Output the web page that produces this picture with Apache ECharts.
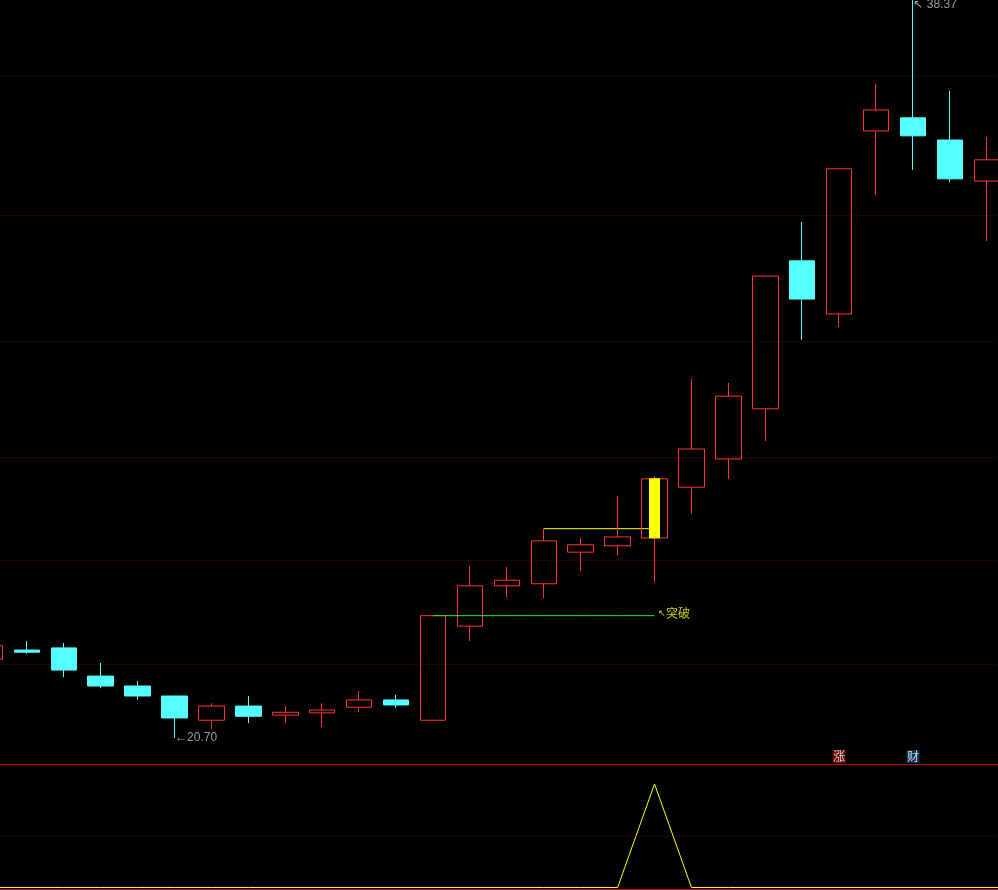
<!DOCTYPE html>
<html>
<head>
<meta charset="utf-8">
<style>html,body{margin:0;padding:0;background:#000;overflow:hidden}#c{width:998px;height:890px}</style>
<script src="https://cdn.jsdelivr.net/npm/echarts@6/dist/echarts.min.js"></script>
</head>
<body>
<div id="c"></div>
<script>
const categories = ['1','2','3','4','5','6','7','8','9','10','11','12','13','14','15','16','17','18','19','20','21','22','23','24','25','26','27','28','29'];
const opens  = [22.11,22.28,22.32,21.80,21.62,21.44,21.01,21.26,21.10,21.14,21.24,21.37,21.01,22.73,23.51,23.55,24.18,24.31,24.47,25.53,26.14,27.26,30.85,29.51,34.39,34.77,34.13,32.98];
const closes = [22.36,22.24,21.91,21.62,21.44,21.05,21.26,21.08,21.15,21.19,21.37,21.28,22.93,23.51,23.62,24.41,24.33,24.49,25.71,26.36,27.55,30.46,29.88,33.32,35.00,34.25,33.04,33.57];
const lows   = [22.11,22.21,21.78,21.58,21.37,20.70,20.86,20.96,20.96,20.89,21.15,21.23,21.01,22.45,23.29,23.27,23.80,24.12,23.58,24.97,25.71,26.54,28.88,29.19,32.60,33.29,32.95,31.37];
const highs  = [22.36,22.45,22.41,22.04,21.71,21.44,21.31,21.44,21.26,21.31,21.53,21.46,22.93,23.90,23.88,24.66,24.47,25.34,25.77,27.95,27.86,30.46,31.87,33.32,35.77,38.37,35.56,34.22];
const gridLevels = [36.00,32.05,28.85,26.18,24.02,22.02];
const indicator = [0,0,0,0,0,0,0,0,0,0,0,0,0,0,0,0,0,0,100,0,0,0,0,0,0,0,0,0,0];
const indicatorLevels = [50];
const breakoutIndex = 12, signalIndex = 18, resistanceIndex = 15;
const badgeItems = [{index:23,text:'涨',bg:'#840A0A'},{index:25,text:'财',bg:'#0F3D6E'}];
const badgePrice = 20.38;
const RED = '#FF3333', CYAN = '#54FFFF', YELLOW = '#FFFF00', GREY = '#C0C0C0';

const candleData = opens.map((o,i)=>[o,closes[i],lows[i],highs[i]]);
const signalData = categories.map((_,i)=> i===signalIndex ? [opens[i],closes[i],opens[i],closes[i]] : ['-','-','-','-']);
const span = (from,to,v)=>categories.map((_,i)=> i>=from&&i<=to ? v : '-');
const LOG_MIN = 20.255, LOG_MAX = 38.37;

const chart = echarts.init(document.getElementById('c'),null,{renderer:'canvas',width:998,height:890});
chart.setOption({
  animation:false,
  backgroundColor:'#000',
  grid:[
    {left:-28.5,width:1070.7,top:0,height:764,outerBoundsMode:'none',containLabel:false},
    {left:-28.5,width:1070.7,top:765,height:124,outerBoundsMode:'none',containLabel:false}
  ],
  xAxis:[
    {type:'category',gridIndex:0,data:categories,boundaryGap:true,
     axisLine:{show:true,onZero:false,lineStyle:{color:'#CC0000',width:1}},axisTick:{show:false},axisLabel:{show:false},splitLine:{show:false}},
    {type:'category',gridIndex:1,data:categories,boundaryGap:true,
     axisLine:{show:true,onZero:false,lineStyle:{color:'#CC0000',width:1}},axisTick:{show:false},axisLabel:{show:false},splitLine:{show:false}}
  ],
  yAxis:[
    {type:'log',logBase:10,gridIndex:0,min:LOG_MIN,max:LOG_MAX,show:false,scale:true,splitLine:{show:false}},
    {type:'value',gridIndex:1,min:-1.45,max:118.36,show:false,splitLine:{show:false}}
  ],
  series:[
    {type:'candlestick',name:'K',xAxisIndex:0,yAxisIndex:0,barWidth:26,z:3,data:candleData,
     itemStyle:{color:'rgba(0,0,0,0)',color0:CYAN,borderColor:RED,borderColor0:CYAN,borderWidth:1},
     markLine:{silent:true,symbol:'none',animation:false,z:1,label:{show:false},
       lineStyle:{color:'#8A0000',width:1,type:[1,3]},
       data:gridLevels.map(v=>({yAxis:v}))}},
    {type:'candlestick',name:'signal',xAxisIndex:0,yAxisIndex:0,barWidth:10,z:4,data:signalData,
     itemStyle:{color:YELLOW,color0:YELLOW,borderColor:YELLOW,borderColor0:YELLOW,borderWidth:1}},
    {type:'line',name:'breakout',xAxisIndex:0,yAxisIndex:0,showSymbol:false,connectNulls:false,z:5,
     data:span(breakoutIndex,signalIndex,closes[breakoutIndex]),lineStyle:{color:'#22EE22',width:1}},
    {type:'line',name:'resistance',xAxisIndex:0,yAxisIndex:0,showSymbol:false,connectNulls:false,z:3,
     data:span(resistanceIndex,signalIndex,highs[resistanceIndex]),lineStyle:{color:YELLOW,width:1}},
    {type:'scatter',name:'notes',xAxisIndex:0,yAxisIndex:0,symbolSize:1,z:6,itemStyle:{color:'transparent'},
     data:[
       {value:[5,lows[5]],label:{show:true,position:'right',distance:0,offset:[0,0],formatter:'←'+lows[5].toFixed(2),color:GREY,fontFamily:'Liberation Sans',fontSize:12}},
       {value:[25,highs[25]],label:{show:true,position:'right',distance:0,offset:[0,5],formatter:'↖ '+highs[25].toFixed(2),color:GREY,fontFamily:'Liberation Sans',fontSize:12}},
       {value:[signalIndex,closes[breakoutIndex]],label:{show:true,position:'right',distance:0,offset:[3,-2],formatter:'{a|↖}{b|突破}',
         rich:{a:{color:YELLOW,fontFamily:'Liberation Sans',fontSize:9},b:{color:YELLOW,fontFamily:'Noto Sans CJK SC',fontSize:12}}}}
     ]},
    {type:'scatter',name:'badges',xAxisIndex:0,yAxisIndex:0,symbol:'rect',symbolSize:13,z:6,
     data:badgeItems.map(b=>({value:[b.index,badgePrice],itemStyle:{color:b.bg},
       label:{show:true,position:'inside',formatter:b.text,color:'#fff',fontFamily:'Noto Sans CJK SC',fontSize:12}}))},
    {type:'line',name:'indicator',xAxisIndex:1,yAxisIndex:1,showSymbol:false,data:indicator,
     lineStyle:{color:YELLOW,width:1},
     markLine:{silent:true,symbol:'none',animation:false,label:{show:false},
       lineStyle:{color:'#8A0000',width:1,type:[1,3]},
       data:indicatorLevels.map(v=>({yAxis:v}))}}
  ]
});
</script>
</body>
</html>
